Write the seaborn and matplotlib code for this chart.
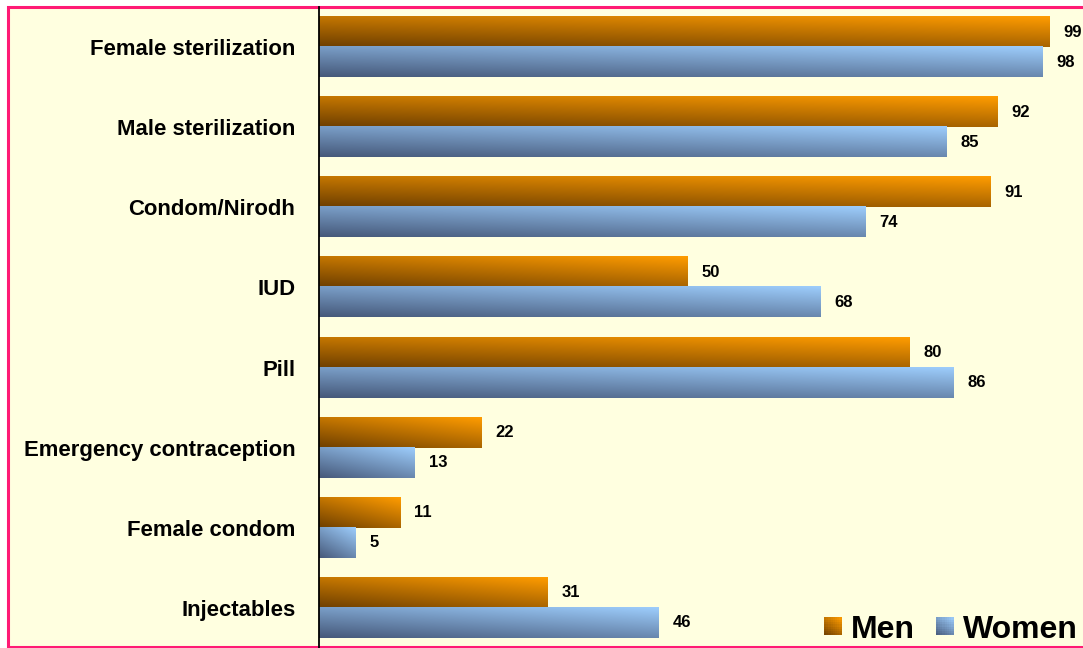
import numpy as np
import pandas as pd
import matplotlib
matplotlib.use("Agg")
import matplotlib.pyplot as plt
import matplotlib.patches as mpatches
from matplotlib.colors import LinearSegmentedColormap
from matplotlib.legend_handler import HandlerBase
import seaborn as sns

# data
methods = ["Female sterilization", "Male sterilization", "Condom/Nirodh", "IUD",
           "Pill", "Emergency contraception", "Female condom", "Injectables"]
men = [99, 92, 91, 50, 80, 22, 11, 31]
women = [98, 85, 74, 68, 86, 13, 5, 46]
groups = ["Men", "Women"]

df = pd.DataFrame({
    "method": methods * 2,
    "value": men + women,
    "group": ["Men"] * len(methods) + ["Women"] * len(methods),
})

# gradient colours (dark -> bright)
grad = {
    "Men": ("#6e3f00", "#ff9c00"),
    "Women": ("#46597a", "#9dcdfc"),
}
solid = {"Men": "#d57f00", "Women": "#7ba3cf"}

sns.set_theme(style="white")
plt.rcParams["font.family"] = ["Liberation Sans", "DejaVu Sans"]

W, H = 1083, 648
fig = plt.figure(figsize=(W / 100, H / 100), dpi=100, facecolor="white")

# pink border with light yellow fill
border = mpatches.Rectangle((8 / W, 1 / H), 1.2, (H - 8) / H, transform=fig.transFigure,
                            facecolor="#ffffe0", edgecolor="#ff1a75", lw=2.2, zorder=-10,
                            clip_on=False)
fig.patches.append(border)

ax = fig.add_axes([319 / W, 0, (W - 319) / W, (H - 7) / H])
ax.set_facecolor("none")

sns.barplot(data=df, y="method", x="value", hue="group", order=methods,
            hue_order=groups, palette=solid, width=0.75, orient="h",
            saturation=1, ax=ax, legend=False)

# diagonal gradient: dark bottom-left, bright top-right
n = 64
u = np.linspace(0, 1, n)
v = np.linspace(0, 1, n)
U, V = np.meshgrid(u, v)
T = 0.6 * V + 0.4 * U

cmaps = {g: LinearSegmentedColormap.from_list(g, grad[g]) for g in groups}

for i, bar in enumerate(ax.patches):
    g = groups[i // len(methods)]
    x0, y0 = bar.get_x(), bar.get_y()
    w, h = bar.get_width(), bar.get_height()
    bar.set_visible(False)
    # y axis is inverted: y0 + h is visually the bottom
    ax.imshow(T, cmap=cmaps[g], origin="lower", aspect="auto",
              extent=(x0, x0 + w, y0 + h, y0), zorder=2, interpolation="bilinear")
    ax.annotate(f"{int(round(w))}", (x0 + w, y0 + h / 2), xytext=(10, 0),
                textcoords="offset points", ha="left", va="center",
                fontsize=12, fontweight="bold", color="black", clip_on=False)

ax.set_xlim(0, (W - 319) / 7.38)
ax.set_ylim(len(methods) - 0.5, -0.5)

ax.set_xlabel("")
ax.set_ylabel("")
ax.set_xticks([])
ax.tick_params(axis="y", which="major", length=0, pad=17)
ax.set_yticks(np.arange(len(methods) + 1) - 0.5, minor=True)
ax.tick_params(axis="y", which="minor", length=6, color="#808080", width=1.2, direction="out")
for lab in ax.get_yticklabels():
    lab.set_fontsize(15.9)
    lab.set_fontweight("bold")
    lab.set_color("black")

for s in ["top", "right", "bottom"]:
    ax.spines[s].set_visible(False)
ax.spines["left"].set_color("black")
ax.spines["left"].set_linewidth(1.3)


class GradientHandler(HandlerBase):
    # small square drawn as a grid of cells to mimic the bar gradient
    def create_artists(self, legend, orig_handle, xdescent, ydescent, width, height,
                       fontsize, trans):
        cmap = cmaps[orig_handle.get_label()]
        k = 8
        side = min(width, height)
        x0 = -xdescent + (width - side) / 2
        y0 = -ydescent + (height - side) / 2
        arts = []
        for a in range(k):
            for b in range(k):
                t = 0.6 * (b + 0.5) / k + 0.4 * (a + 0.5) / k
                r = mpatches.Rectangle((x0 + a * side / k, y0 + b * side / k),
                                       side / k + 0.3, side / k + 0.3,
                                       facecolor=cmap(t), edgecolor="none",
                                       transform=trans)
                arts.append(r)
        return arts


handles = [mpatches.Patch(facecolor=solid[g], edgecolor="none", label=g) for g in groups]
leg = fig.legend(handles=handles, loc="lower right", bbox_to_anchor=(1.01, -0.02), ncol=2,
                 frameon=False, prop={"size": 23, "weight": "bold"},
                 handlelength=0.55, handleheight=0.55, handletextpad=0.3, columnspacing=0.65,
                 borderaxespad=0.1, handler_map={mpatches.Patch: GradientHandler()})
for t in leg.get_texts():
    t.set_color("black")

fig.savefig("out.png", dpi=100, facecolor=fig.get_facecolor())
